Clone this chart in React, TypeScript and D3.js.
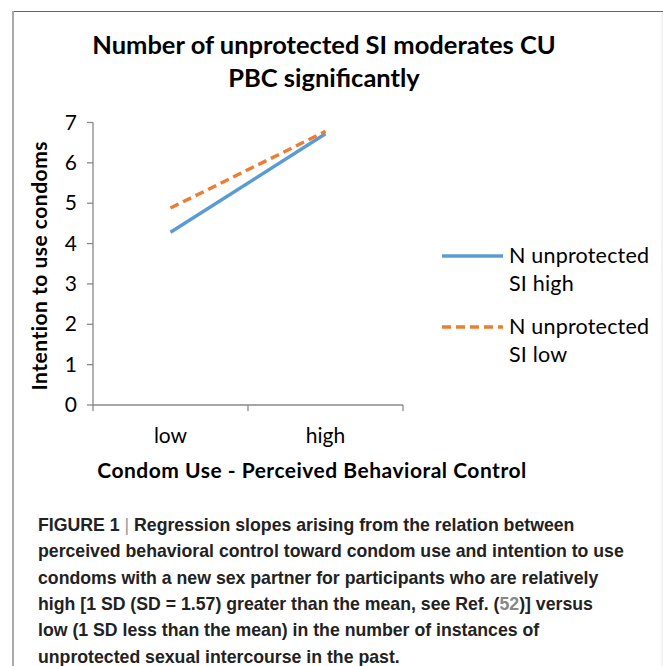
import React from "react";
import * as d3 from "d3";

const categories = ["low", "high"];
const seriesNames = ["N unprotected SI high", "N unprotected SI low"];
const siHigh = [4.28, 6.72];
const siLow = [4.88, 6.78];
const yTicks = [0, 1, 2, 3, 4, 5, 6, 7];
const titleLines = ["Number of unprotected SI moderates CU", "PBC significantly"];
const legendLines = [["N unprotected", "SI high"], ["N unprotected", "SI low"]];
const captionLines = [
  "Regression slopes arising from the relation between",
  "perceived behavioral control toward condom use and intention to use",
  "condoms with a new sex partner for participants who are relatively",
  "high [1 SD (SD = 1.57) greater than the mean, see Ref. (52)] versus",
  "low (1 SD less than the mean) in the number of instances of",
  "unprotected sexual intercourse in the past.",
];

export default function App() {
  const W = 663, H = 666;
  const chartFont = "Lato, 'Open Sans', sans-serif";
  const capFont = "'Liberation Sans', Arial, sans-serif";
  const x0 = 93, x1 = 403, y0 = 405, y1 = 122.5;
  const band = d3.scaleBand<string>().domain(categories).range([x0, x1]);
  const y = d3.scaleLinear().domain([0, 7]).range([y0, y1]);
  const cx = (c: string) => (band(c) as number) + band.bandwidth() / 2;
  const line = d3
    .line<number>()
    .x((_, i) => cx(categories[i]))
    .y((v) => y(v));
  const series = [
    { name: seriesNames[0], values: siHigh, color: "#5b9bd5", dash: undefined as string | undefined },
    { name: seriesNames[1], values: siLow, color: "#ed7d31", dash: "9,5" },
  ];
  const tickXs = [x0, x0 + band.bandwidth(), x1];

  return (
    <svg width={W} height={H} style={{ position: "absolute", left: 0, top: 0, background: "#fff" }}>
      <rect x={0} y={0} width={W} height={H} fill="#fff" />
      {/* frame */}
      <line x1={12} y1={11.5} x2={W} y2={11.5} stroke="#666" strokeWidth={1} />
      <line x1={13} y1={11} x2={13} y2={H} stroke="#aaa" strokeWidth={2} />
      <line x1={662} y1={12} x2={662} y2={H} stroke="#e6e6e6" strokeWidth={1} />

      {/* title */}
      {titleLines.map((t, i) => (
        <text key={i} x={324} y={54 + i * 33} textAnchor="middle" fontFamily={chartFont} fontWeight="bold" fontSize={25.5} fill="#000">
          {t}
        </text>
      ))}

      {/* y axis */}
      <line x1={x0} y1={y1} x2={x0} y2={y0} stroke="#888" strokeWidth={1.3} />
      {yTicks.map((t) => (
        <g key={t}>
          <line x1={x0 - 6} x2={x0} y1={y(t)} y2={y(t)} stroke="#888" strokeWidth={1.3} />
          <text x={77} y={y(t) + 7} textAnchor="end" fontFamily={chartFont} fontSize={21} fill="#000">
            {t}
          </text>
        </g>
      ))}
      {/* x axis */}
      <line x1={x0} y1={y0} x2={x1} y2={y0} stroke="#888" strokeWidth={1.3} />
      {tickXs.map((tx, i) => (
        <line key={i} x1={tx} x2={tx} y1={y0} y2={y0 + 6} stroke="#888" strokeWidth={1.3} />
      ))}
      {categories.map((c) => (
        <text key={c} x={cx(c)} y={443} textAnchor="middle" fontFamily={chartFont} fontSize={21} fill="#000">
          {c}
        </text>
      ))}
      <text x={312} y={478} textAnchor="middle" fontFamily={chartFont} fontWeight="bold" fontSize={21} letterSpacing={0.5} fill="#000">
        Condom Use - Perceived Behavioral Control
      </text>
      <text transform={`translate(47,${(y0 + y1) / 2 + 2}) rotate(-90)`} textAnchor="middle" fontFamily={chartFont} fontWeight="bold" fontSize={21} letterSpacing={0.5} fill="#000">
        Intention to use condoms
      </text>

      {/* series */}
      {series.map((s) => (
        <path key={s.name} d={line(s.values) || ""} fill="none" stroke={s.color} strokeWidth={3.4} strokeDasharray={s.dash} />
      ))}

      {/* legend */}
      {series.map((s, i) => (
        <g key={s.name} transform={`translate(0,${256 + i * 71})`}>
          <line x1={442} x2={503} y1={0} y2={0} stroke={s.color} strokeWidth={3.4} strokeDasharray={s.dash} />
          {legendLines[i].map((t, j) => (
            <text key={j} x={509} y={7 + j * 28} fontFamily={chartFont} fontSize={21.5} letterSpacing={0.2} fill="#000">
              {t}
            </text>
          ))}
        </g>
      ))}

      {/* caption */}
      {captionLines.map((t, i) => {
        const yy = 531 + i * 26.3;
        const common = { x: 38, y: yy, fontFamily: capFont, fontWeight: "bold", fontSize: 17.7, fill: "#222" } as const;
        if (i === 0) {
          return (
            <text key={i} {...common}>
              FIGURE 1 <tspan fill="#999" fontWeight="normal">|</tspan> {t}
            </text>
          );
        }
        if (i === 3) {
          const [a, rest] = t.split("(52)");
          return (
            <text key={i} {...common}>
              {a}(<tspan fill="#888">52</tspan>){rest}
            </text>
          );
        }
        return (
          <text key={i} {...common}>
            {t}
          </text>
        );
      })}
    </svg>
  );
}
